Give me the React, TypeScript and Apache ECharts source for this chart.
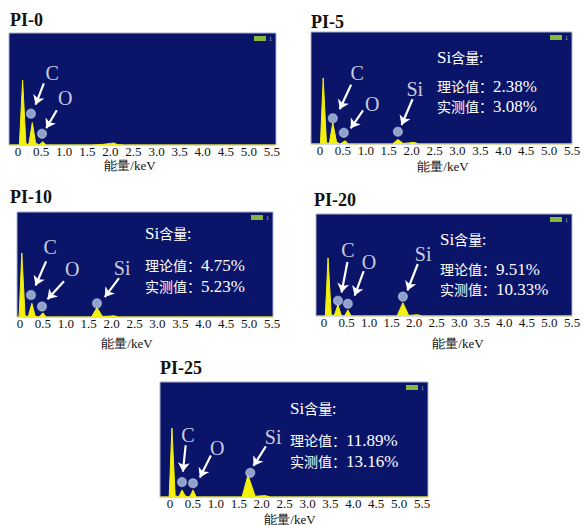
import React, { useEffect, useRef } from "react";
import * as echarts from "echarts";

// ---------- data ----------
const titles = ["PI-0", "PI-5", "PI-10", "PI-20", "PI-25"];
const tickValues = [0, 0.5, 1.0, 1.5, 2.0, 2.5, 3.0, 3.5, 4.0, 4.5, 5.0, 5.5];
const axisTitle = "能量/keV";
const headerSi = "Si";
const headerRest = "含量:";
const theoryLabel = "理论值：";
const measuredLabel = "实测值：";
const theoryValues = ["", "2.38%", "4.75%", "9.51%", "11.89%"];
const measuredValues = ["", "3.08%", "5.23%", "10.33%", "13.16%"];

// spectra: [keV, intensity]
const spectrumPI0 = [
  [-0.2, 0], [0.03, 0], [0.1, 58], [0.17, 2], [0.21, 0], [0.24, 2], [0.31, 20], [0.38, 2],
  [0.45, 0], [0.48, 1], [0.54, 3], [0.6, 0], [1.6, 0], [1.85, 0.6], [2.0, 1.4], [2.07, 1.8],
  [2.15, 0.5], [2.3, 0], [5.6, 0],
];
const spectrumPI5 = [
  [-0.2, 0], [0.01, 0], [0.07, 59], [0.14, 2], [0.18, 0], [0.21, 2], [0.28, 19], [0.36, 2],
  [0.43, 0], [0.48, 1], [0.55, 3], [0.62, 0], [1.58, 0], [1.7, 4], [1.82, 0.5], [1.95, 1],
  [2.05, 1.5], [2.15, 0], [5.6, 0],
];
const spectrumPI10 = [
  [-0.07, 0], [-0.02, 0], [0.04, 61], [0.11, 2], [0.15, 0], [0.19, 2], [0.26, 13], [0.33, 1],
  [0.4, 0], [0.44, 1], [0.5, 4], [0.57, 0], [1.56, 0], [1.68, 9], [1.8, 0.5], [1.95, 0.8],
  [2.05, 1.2], [2.15, 0], [5.6, 0],
];
const spectrumPI20 = [
  [-0.2, 0], [0.03, 0], [0.09, 57], [0.16, 2], [0.2, 0], [0.24, 2], [0.31, 11], [0.38, 1],
  [0.44, 0], [0.47, 1], [0.53, 6], [0.6, 0], [1.62, 0], [1.75, 13], [1.88, 0.5], [2.0, 1],
  [2.08, 1.2], [2.18, 0], [5.6, 0],
];
const spectrumPI25 = [
  [-0.23, 0], [-0.02, 0], [0.04, 60], [0.11, 2], [0.16, 0], [0.2, 1], [0.26, 6], [0.33, 1],
  [0.4, 0], [0.44, 1], [0.5, 6], [0.57, 0], [1.57, 0], [1.7, 19], [1.86, 0.6], [2.0, 1],
  [2.08, 1.2], [2.18, 0], [5.7, 0],
];
const spectra = [spectrumPI0, spectrumPI5, spectrumPI10, spectrumPI20, spectrumPI25];

// identified element peaks (marker circles): name, keV, intensity
const peaksPI0 = [["C", 0.28, 28], ["O", 0.52, 10]];
const peaksPI5 = [["C", 0.28, 23], ["O", 0.52, 10], ["Si", 1.7, 11]];
const peaksPI10 = [["C", 0.24, 21], ["O", 0.48, 10], ["Si", 1.68, 13]];
const peaksPI20 = [["C", 0.31, 15], ["O", 0.53, 12], ["Si", 1.75, 19]];
const peaksPI25 = [["C", 0.26, 13], ["O", 0.5, 12], ["Si", 1.75, 21]];
const peaks = [peaksPI0, peaksPI5, peaksPI10, peaksPI20, peaksPI25];

// ---------- layout (positions, sizes) ----------
const boxes = [
  { left: 9, top: 33, width: 267, height: 112 },
  { left: 311, top: 32, width: 261, height: 112 },
  { left: 17, top: 212, width: 256, height: 105 },
  { left: 316, top: 214, width: 256, height: 102 },
  { left: 160, top: 382, width: 268, height: 115 },
];
const xRanges = [
  [-0.195, 5.587],
  [-0.196, 5.5],
  [-0.065, 5.52],
  [-0.177, 5.5],
  [-0.22, 5.63],
];
// annotation layout in data coords: label position, arrow tail, arrow head
const annotLayout = [
  [
    { label: [0.74, 64], tail: [0.56, 55], head: [0.38, 36] },
    { label: [1.02, 42], tail: [0.84, 31], head: [0.61, 15] },
  ],
  [
    { label: [0.81, 63], tail: [0.68, 53], head: [0.43, 31] },
    { label: [1.14, 36], tail: [0.94, 30], head: [0.67, 14] },
    { label: [2.07, 49], tail: [2.02, 40], head: [1.78, 17] },
  ],
  [
    { label: [0.66, 67], tail: [0.57, 53], head: [0.34, 30] },
    { label: [1.14, 46], tail: [0.96, 34], head: [0.6, 17] },
    { label: [2.23, 47], tail: [2.16, 37], head: [1.85, 19] },
  ],
  [
    { label: [0.53, 65], tail: [0.52, 53], head: [0.39, 23] },
    { label: [1.0, 53], tail: [0.88, 44], head: [0.68, 20] },
    { label: [2.2, 61], tail: [2.08, 51], head: [1.85, 25] },
  ],
  [
    { label: [0.39, 54], tail: [0.34, 45], head: [0.28, 22] },
    { label: [1.03, 43], tail: [0.89, 36], head: [0.65, 17] },
    { label: [2.25, 52], tail: [2.09, 44], head: [1.82, 27] },
  ],
];
const titlePos = [[10, 20], [311, 22], [10, 197], [314, 200], [160, 368]];
const axisTitlePos = [[130, 165], [443, 166], [127, 343], [458, 343], [290, 519]];
const textBlockPos = [null, [437, 57, 86, 106], [145, 233, 265, 286], [440, 239, 269, 289], [290, 408, 440, 461]];

const SERIF = "'Liberation Serif', 'DejaVu Serif', serif";
const CJK = "'Noto Sans CJK SC', sans-serif";
const BG = "#0a1468";
const YELLOW = "#f2f00c";

export default function App() {
  const ref = useRef<HTMLDivElement>(null);
  useEffect(() => {
    document.body.style.margin = "0";
    if (!ref.current) return;
    const chart = echarts.init(ref.current, null, { renderer: "svg" });

    const series: any[] = [];
    spectra.forEach((sp, i) => {
      series.push({
        type: "line",
        xAxisIndex: i,
        yAxisIndex: i,
        data: sp,
        symbol: "none",
        smooth: false,
        lineStyle: { color: YELLOW, width: 1 },
        areaStyle: { color: YELLOW, opacity: 1 },
        z: 2,
        silent: true,
      });
      series.push({
        type: "scatter",
        xAxisIndex: i,
        yAxisIndex: i,
        data: peaks[i].map((p) => ({ name: p[0], value: [p[1], p[2]] })),
        symbolSize: 9,
        itemStyle: { color: "#b0c3e2", borderColor: "rgba(210,222,245,0.55)", borderWidth: 1.5 },
        z: 4,
        silent: true,
        markLine: {
          silent: true,
          symbol: ["none", "arrow"],
          symbolSize: 9,
          lineStyle: { color: "#ffffff", width: 2.2, type: "solid", opacity: 1 },
          itemStyle: { color: "#ffffff" },
          label: { show: false },
          emphasis: { disabled: true },
          data: annotLayout[i].map((a) => [{ coord: a.tail }, { coord: a.head }]),
        },
      });
      series.push({
        type: "scatter",
        xAxisIndex: i,
        yAxisIndex: i,
        data: peaks[i].map((p, k) => ({ name: p[0], value: annotLayout[i][k].label })),
        symbolSize: 1,
        itemStyle: { color: "rgba(0,0,0,0)" },
        label: {
          show: true,
          position: "inside",
          formatter: "{b}",
          color: "#ffffff",
          fontFamily: SERIF,
          fontSize: 20,
        },
        z: 5,
        silent: true,
      });
    });

    const graphic: any[] = [];
    titles.forEach((t, i) => {
      graphic.push({
        type: "text",
        x: titlePos[i][0],
        y: titlePos[i][1],
        style: { text: t, fontFamily: SERIF, fontWeight: "bold", fontSize: 18, fill: "#111", verticalAlign: "middle" },
      });
      graphic.push({
        type: "text",
        x: axisTitlePos[i][0],
        y: axisTitlePos[i][1],
        style: { text: axisTitle, fontFamily: SERIF, fontSize: 13, fill: "#111", align: "center", verticalAlign: "middle" },
      });
      const b = boxes[i];
      graphic.push({
        type: "rect",
        shape: { x: b.left + b.width - 22, y: b.top + 3, width: 12, height: 5 },
        style: { fill: "#86b63c" },
        z: 10,
      });
      graphic.push({
        type: "text",
        x: b.left + b.width - 7,
        y: b.top + 5.5,
        style: { text: "1", fontSize: 6, fill: "#bbbbbb", fontFamily: SERIF, verticalAlign: "middle" },
        z: 10,
      });
      const tp = textBlockPos[i];
      if (tp) {
        const rich = {
          c: { fontFamily: CJK, fontSize: 14, fill: "#ffffff", color: "#ffffff" },
          n: { fontFamily: SERIF, fontSize: 17, fill: "#ffffff", color: "#ffffff" },
        };
        graphic.push({
          type: "text",
          x: tp[0],
          y: tp[1],
          z: 10,
          style: { text: `{n|${headerSi}}{c|${headerRest}}`, rich, verticalAlign: "middle", fill: "#fff" },
        });
        graphic.push({
          type: "text",
          x: tp[0],
          y: tp[2],
          z: 10,
          style: { text: `{c|${theoryLabel}}{n|${theoryValues[i]}}`, rich, verticalAlign: "middle", fill: "#fff" },
        });
        graphic.push({
          type: "text",
          x: tp[0],
          y: tp[3],
          z: 10,
          style: { text: `{c|${measuredLabel}}{n|${measuredValues[i]}}`, rich, verticalAlign: "middle", fill: "#fff" },
        });
      }
    });

    const option: any = {
      animation: false,
      backgroundColor: "#ffffff",
      grid: boxes.map((b) => ({
        ...b,
        show: true,
        backgroundColor: BG,
        borderColor: "#a9b0cc",
        borderWidth: 1,
        containLabel: false,
      })),
      xAxis: boxes.map((_, i) => ({
        gridIndex: i,
        type: "value",
        min: xRanges[i][0],
        max: xRanges[i][1],
        splitLine: { show: false },
        axisLine: { show: false },
        axisTick: { show: false },
        axisLabel: {
          customValues: tickValues,
          formatter: (v: number) => (v === 0 ? "0" : v.toFixed(1)),
          margin: 0,
          fontFamily: SERIF,
          fontSize: 13,
          color: "#111",
          hideOverlap: false,
        },
      })),
      yAxis: boxes.map((_, i) => ({
        gridIndex: i,
        type: "value",
        min: 0,
        max: 100,
        show: false,
        splitLine: { show: false },
      })),
      series,
      graphic,
    };
    chart.setOption(option);
    return () => chart.dispose();
  }, []);
  return <div ref={ref} style={{ width: 584, height: 525 }} />;
}
